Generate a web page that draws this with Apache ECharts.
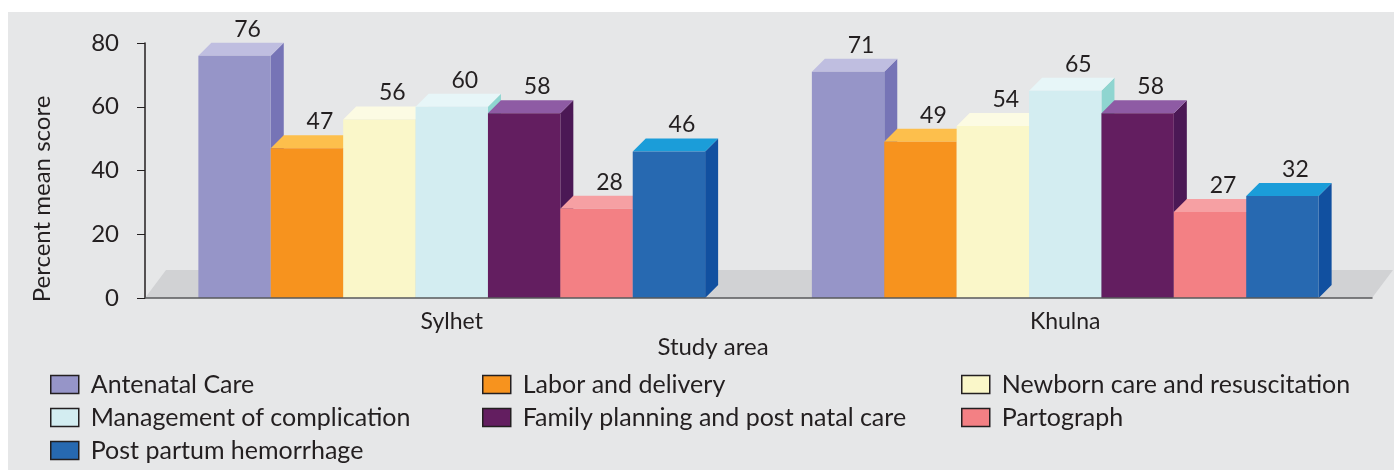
<!DOCTYPE html>
<html>
<head>
<meta charset="utf-8">
<script src="https://cdn.jsdelivr.net/npm/echarts@6/dist/echarts.min.js"></script>
<style>
  html, body { margin: 0; padding: 0; background: #fff; }
  #main { width: 1394px; height: 473px; }
</style>
</head>
<body>
<div id="main"></div>
<script>
const areas = ['Sylhet', 'Khulna']
const topics = [
  'Antenatal Care',
  'Labor and delivery',
  'Newborn care and resuscitation',
  'Management of complication',
  'Family planning and post natal care',
  'Partograph',
  'Post partum hemorrhage'
]
const antenatal = [76, 71]
const labor = [47, 49]
const newborn = [56, 54]
const complication = [60, 65]
const familyPlanning = [58, 58]
const partograph = [28, 27]
const pph = [46, 32]
const yTicks = [0, 20, 40, 60, 80]

const values = [antenatal, labor, newborn, complication, familyPlanning, partograph, pph]

// front / top / side shades of each bar
const shades = [
  ['#9695c8', '#bfbee0', '#7674b6'],
  ['#f7931e', '#fdbf4c', '#de7a12'],
  ['#faf7c9', '#fcfbe3', '#e6e2a6'],
  ['#d3edf1', '#e7f6f8', '#8fd5d0'],
  ['#631e60', '#8e5ba4', '#4b1855'],
  ['#f38084', '#f6a0a3', '#d86064'],
  ['#2769b1', '#1b9dd9', '#1150a0']
]

const FONT = 'Lato, "DejaVu Sans", sans-serif'
const DEPTH = 13

const chart = echarts.init(document.getElementById('main'))

function barRenderer(i) {
  return function (params, api) {
    const cat = api.value(0)
    const val = api.value(1)
    const top = api.coord([cat, val])
    const base = api.coord([cat, 0])
    const band = api.size([1, 0])[0]
    const w = band * 0.118
    const x0 = base[0] - w * 3.5 + i * w
    const x1 = x0 + w
    const yt = top[1]
    const yb = base[1]
    const c = shades[i]
    return {
      type: 'group',
      children: [
        {
          type: 'polygon',
          shape: { points: [[x1, yb], [x1 + DEPTH, yb - DEPTH], [x1 + DEPTH, yt - DEPTH], [x1, yt]] },
          style: { fill: c[2] }
        },
        {
          type: 'polygon',
          shape: { points: [[x0, yt], [x0 + DEPTH, yt - DEPTH], [x1 + DEPTH, yt - DEPTH], [x1, yt]] },
          style: { fill: c[1] }
        },
        {
          type: 'rect',
          shape: { x: x0, y: yt, width: w, height: yb - yt },
          style: { fill: c[0] }
        },
        {
          type: 'text',
          x: (x0 + x1) / 2 + DEPTH,
          y: yt - DEPTH - 2,
          style: {
            text: String(val),
            fill: '#231f20',
            font: '23px ' + FONT,
            align: 'center',
            verticalAlign: 'bottom'
          }
        }
      ]
    }
  }
}

const floorSeries = {
  type: 'custom',
  name: 'floor',
  silent: true,
  z: 1,
  data: [[0, 0]],
  renderItem: function (params, api) {
    const cs = params.coordSys
    const yb = cs.y + cs.height
    return {
      type: 'polygon',
      shape: {
        points: [[cs.x, yb], [cs.x + 21, yb - 28], [cs.x + cs.width + 21, yb - 28], [cs.x + cs.width, yb]]
      },
      style: { fill: '#d1d2d4' }
    }
  }
}

const barSeries = topics.map((name, i) => ({
  type: 'custom',
  name: name,
  z: 2,
  itemStyle: { color: shades[i][0] },
  data: areas.map((a, k) => [k, values[i][k]]),
  encode: { x: 0, y: 1 },
  renderItem: barRenderer(i)
}))

function legendCol(left, names) {
  return {
    left: left,
    top: 372,
    height: 140,
    orient: 'vertical',
    padding: 0,
    itemGap: 8,
    itemWidth: 28,
    itemHeight: 18,
    icon: 'rect',
    selectedMode: false,
    itemStyle: { borderColor: '#231f20', borderWidth: 1.5 },
    textStyle: { fontFamily: FONT, fontSize: 25, lineHeight: 20, color: '#231f20', padding: [0, 0, 0, 7] },
    data: names
  }
}

chart.setOption({
  backgroundColor: '#ffffff',
  animation: false,
  graphic: [
    {
      type: 'rect',
      z: -10,
      shape: { x: 8, y: 12, width: 1386, height: 458 },
      style: { fill: '#e6e7e8' }
    },
    {
      type: 'text',
      x: 42,
      y: 199,
      rotation: Math.PI / 2,
      style: {
        text: 'Percent mean score',
        fill: '#231f20',
        font: '24px ' + FONT,
        align: 'center',
        verticalAlign: 'middle'
      }
    },
    {
      type: 'text',
      x: 713,
      y: 347,
      style: {
        text: 'Study area',
        fill: '#231f20',
        font: '24px ' + FONT,
        align: 'center',
        verticalAlign: 'middle'
      }
    }
  ],
  legend: [
    legendCol(50, [topics[0], topics[3], topics[6]]),
    legendCol(482, [topics[1], topics[4]]),
    legendCol(961, [topics[2], topics[5]])
  ],
  grid: { left: 145, right: 22, top: 43, bottom: 175 },
  xAxis: {
    type: 'category',
    data: areas,
    z: 3,
    axisLine: { lineStyle: { color: '#58595b', width: 1.5 } },
    axisTick: { length: 6, lineStyle: { color: '#231f20' } },
    axisLabel: { fontFamily: FONT, fontSize: 23, color: '#231f20', margin: 12 }
  },
  yAxis: {
    type: 'value',
    min: yTicks[0],
    max: yTicks[yTicks.length - 1],
    interval: 20,
    z: 3,
    splitLine: { show: false },
    axisLine: { show: true, lineStyle: { color: '#231f20', width: 1.5 } },
    axisTick: { show: true, length: 8, lineStyle: { color: '#231f20' } },
    axisLabel: { fontFamily: FONT, fontSize: 24, color: '#231f20', margin: 26 }
  },
  series: [floorSeries].concat(barSeries)
})
</script>
</body>
</html>
